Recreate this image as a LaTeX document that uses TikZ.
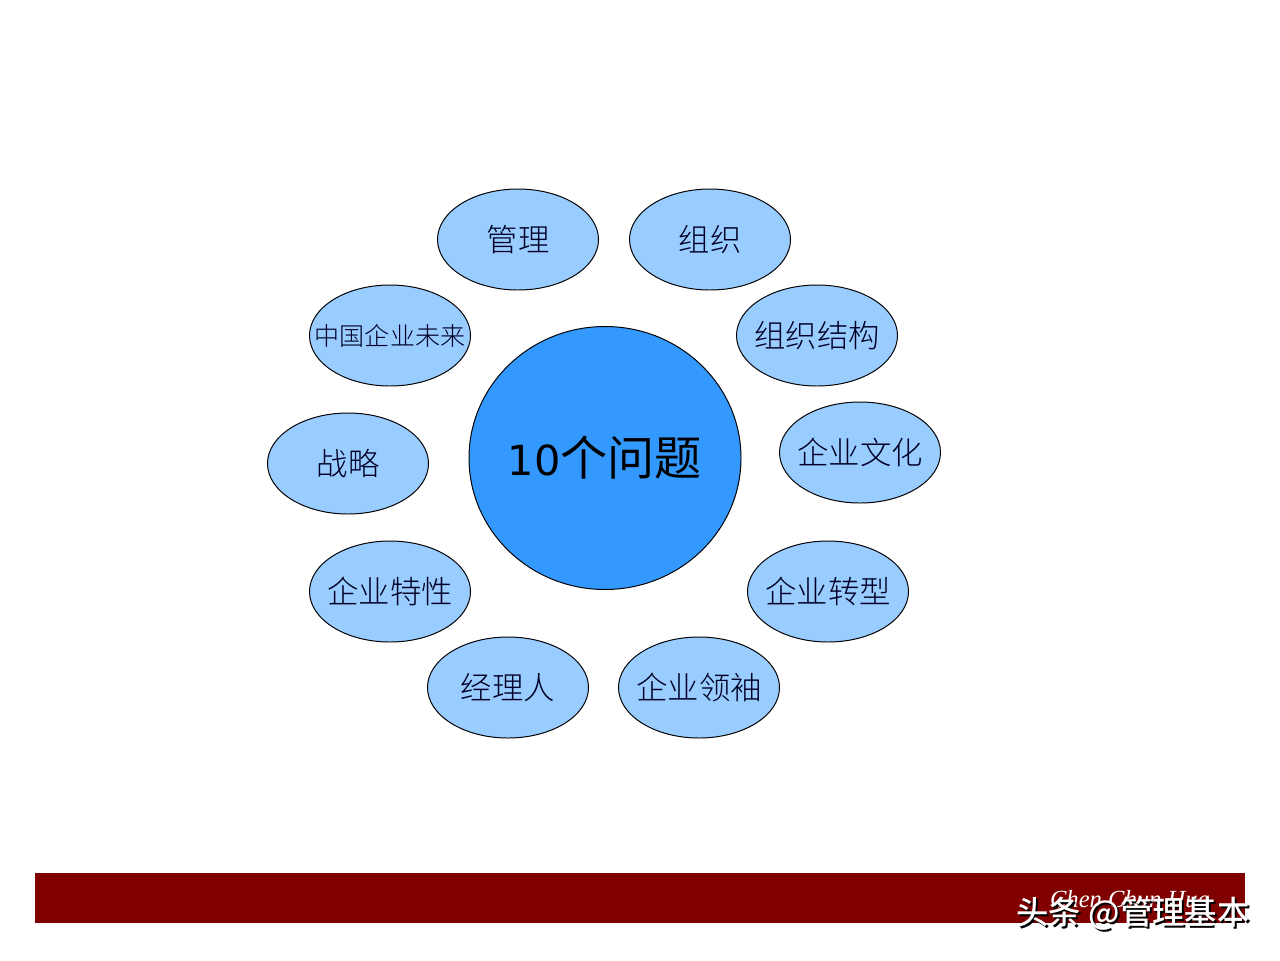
\documentclass[tikz,border=0pt]{standalone}
\usepackage{fontspec}
\setmainfont{Liberation Serif}
\newfontfamily\cjk{Noto Sans CJK SC}
\newfontfamily\cjklight{Noto Sans CJK SC Light}
\newfontfamily\cjkmedium{Noto Sans CJK SC Medium}
\newfontfamily\numfont{DejaVu Sans}
\usetikzlibrary{shapes.geometric}
\definecolor{petalblue}{RGB}{153,204,255}
\definecolor{hubblue}{RGB}{51,153,255}
\definecolor{barred}{RGB}{128,0,0}
\newlength{\pxu}
\setlength{\pxu}{0.025cm}
\tikzset{
  petal/.style={ellipse,draw=black,line width=0.7pt,fill=petalblue,inner sep=-14pt,minimum width=161\pxu,minimum height=101\pxu,font=\cjklight\fontsize{22.3}{24}\selectfont,text=black!85!blue},
  markfont/.style={inner sep=0pt,font=\cjkmedium\fontsize{23}{26}\selectfont},
}
\begin{document}
\begin{tikzpicture}[x=0.025cm,y=-0.025cm]
\useasboundingbox (0,0) rectangle (1280,960);
% bar
\fill[barred] (35,873) rectangle (1245,923);
% hub
\node[ellipse,draw=black,line width=0.7pt,fill=hubblue,inner sep=-30pt,minimum width=272\pxu,minimum height=263\pxu,font=\fontsize{33.5}{36}\selectfont] (hub) at (605,458) {{\numfont\fontsize{29.5}{36}\selectfont 10}{\cjk 个问题}};
% ring
\node[petal] (guanli) at (518,239.5) {管理};
\node[petal] (zuzhi) at (710,239.5) {组织};
\node[petal] (jiegou) at (817,335.5) {组织结构};
\node[petal] (wenhua) at (860,452.5) {企业文化};
\node[petal] (zhuanxing) at (828,591.5) {企业转型};
\node[petal] (lingxiu) at (699,687.5) {企业领袖};
\node[petal] (jingli) at (508,687.5) {经理人};
\node[petal] (texing) at (390,591.5) {企业特性};
\node[petal] (zhanlue) at (348,463.5) {战略};
\node[petal,font=\cjklight\fontsize{17.8}{20}\selectfont] (weilai) at (390,335.5) {中国企业未来};
% footer
\node[text=white,font=\itshape\fontsize{17.5}{20}\selectfont,inner sep=0pt] (sign) at (1130,899) {Chen Chun Hua};
\node[markfont,text=black] (markshadow) at (1135,916) {头条 @管理基本};
\node[markfont,text=white] (mark) at (1133,914) {头条 @管理基本};
\end{tikzpicture}
\end{document}
